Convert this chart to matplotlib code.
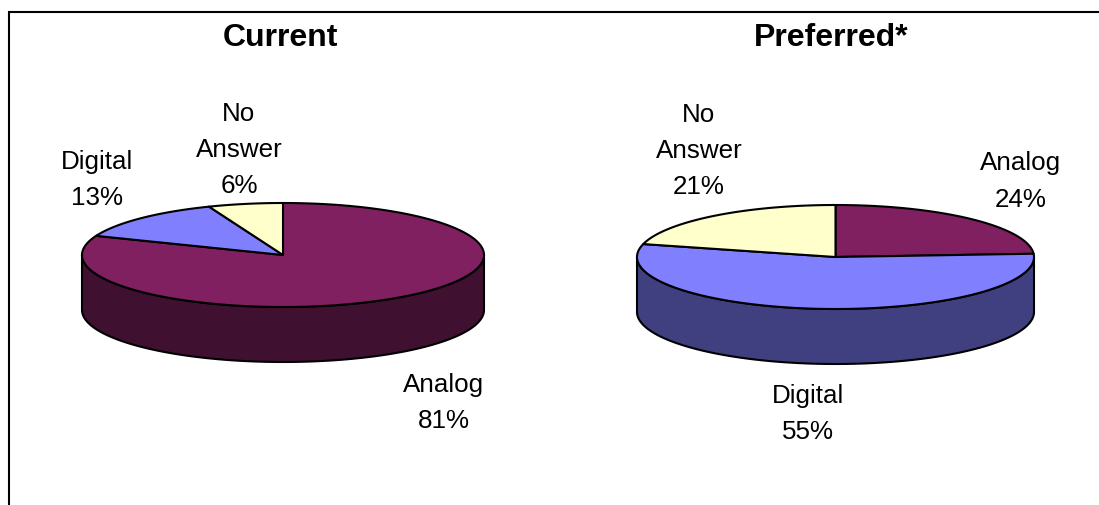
import numpy as np
import matplotlib
matplotlib.use("Agg")
import matplotlib.pyplot as plt
from matplotlib.patches import Polygon

plt.rcParams['font.family'] = ['Liberation Sans', 'DejaVu Sans']

categories = ["Analog", "Digital", "No\nAnswer"]
current_values = [81, 13, 6]
preferred_values = [24, 55, 21]
titles = ["Current", "Preferred*"]
top_colors = ["#802060", "#8080FF", "#FFFFCC"]
side_colors = ["#401030", "#404080", "#808066"]

fig = plt.figure(figsize=(10.99, 5.05), dpi=100)
ax = fig.add_axes([0, 0, 1, 1])
ax.set_xlim(0, 1099)
ax.set_ylim(505, 0)
ax.axis("off")

LW = 1.5


def rim(cx, cy, rx, ry, a):
    # a is in degrees clockwise from 12 o'clock
    r = np.radians(a)
    return np.column_stack([cx + rx * np.sin(r), cy - ry * np.cos(r)])


def pie3d(values, cx, cy, rx, ry, depth):
    edges = np.concatenate([[0], np.cumsum(values) / np.sum(values) * 360])
    # side walls: only the front half of the rim (90 to 270 degrees) shows
    for i in range(len(values)):
        lo, hi = max(edges[i], 90), min(edges[i + 1], 270)
        if hi > lo:
            arc = rim(cx, cy, rx, ry, np.linspace(lo, hi, 200))
            low = arc[::-1] + [0, depth]
            ax.add_patch(Polygon(np.vstack([arc, low]), closed=True, fc=side_colors[i],
                                 ec="black", lw=LW, joinstyle="round", zorder=2))
    # top face
    for i in range(len(values)):
        arc = rim(cx, cy, rx, ry, np.linspace(edges[i], edges[i + 1], 400))
        ax.add_patch(Polygon(np.vstack([[cx, cy], arc]), closed=True, fc=top_colors[i],
                             ec="black", lw=LW, joinstyle="round", zorder=3))


pie3d(current_values, 283, 255, 201, 52, 55)
pie3d(preferred_values, 835.5, 257, 198.5, 52, 55)

# frame: top and left edges only
ax.plot([9, 9, 1099], [505, 12, 12], color="black", lw=1.5, solid_joinstyle="miter", zorder=1)

FS = 18.7
LS = 1.65
label_kw = dict(ha="center", va="center", fontsize=FS, linespacing=LS, color="black", zorder=5)


def label(name, val, x, y):
    ax.text(x, y, f"{name}\n{val}%", **label_kw)


label(categories[0], current_values[0], 444, 403)
label(categories[1], current_values[1], 97, 180)
label(categories[2], current_values[2], 239, 150)
label(categories[0], preferred_values[0], 1021, 181.5)
label(categories[1], preferred_values[1], 808, 414)
label(categories[2], preferred_values[2], 699, 151)

ax.text(280, 38, titles[0], ha="center", va="center", fontsize=23, fontweight="bold")
ax.text(831, 38, titles[1], ha="center", va="center", fontsize=23, fontweight="bold")

fig.savefig("out.png", dpi=100)
